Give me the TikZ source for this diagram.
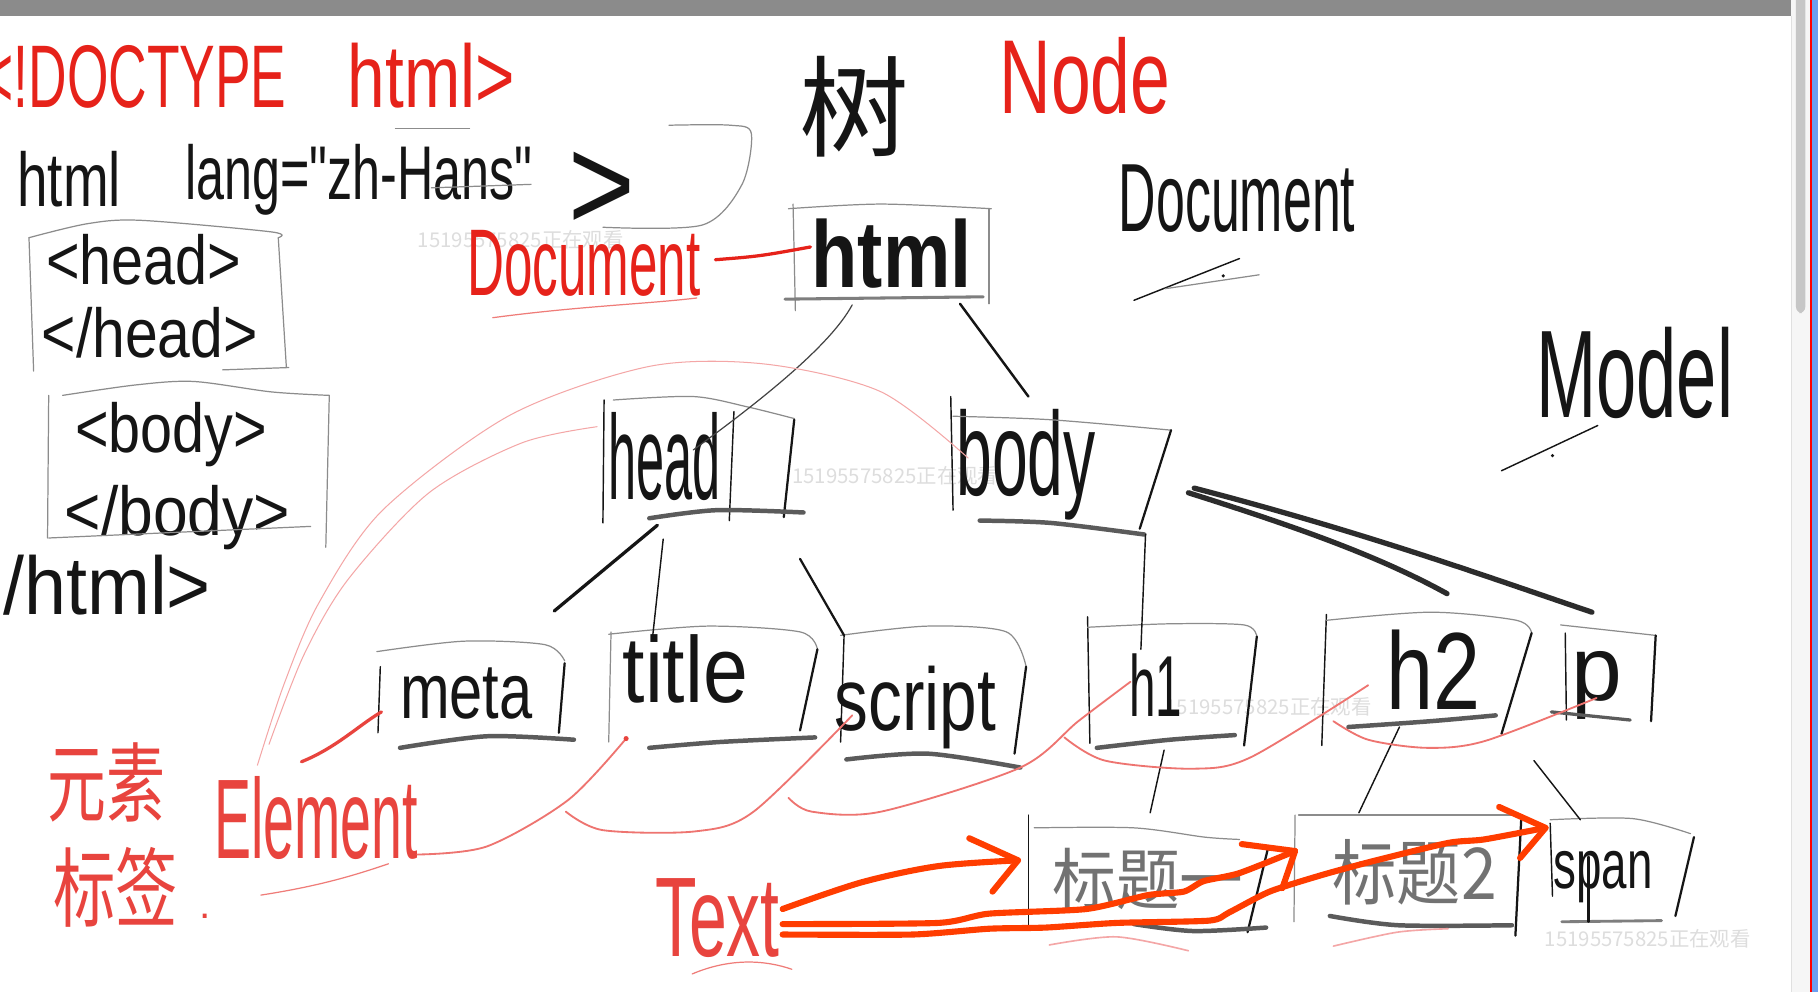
\documentclass[tikz,border=0pt]{standalone}
\usepackage{fontspec}
\usepackage{graphicx}
\setmainfont{Liberation Sans}
\newfontfamily\qfont{Liberation Sans}
\newfontfamily\cjk{Noto Sans CJK SC}
\definecolor{ink}{HTML}{151515}
\definecolor{pen}{HTML}{8C8C8C}
\definecolor{redpen}{HTML}{E6221A}
\definecolor{redsoft}{HTML}{E8443E}
\definecolor{pinkthin}{HTML}{F4A6A6}
\definecolor{pinkmid}{HTML}{EE7470}
\definecolor{orangepen}{HTML}{FF3D00}
\definecolor{wm}{HTML}{DDDDDD}
\definecolor{barGray}{HTML}{8B8B8B}
\definecolor{panel}{HTML}{F6F6F6}
\definecolor{thumb}{HTML}{C6C6C6}
\definecolor{blueedge}{HTML}{6C9FF0}
\newcommand\HW[3]{\scalebox{#1}[1]{\fontsize{#2pt}{#2pt}\selectfont #3}}
\tikzset{
  lbl/.style={inner sep=0pt, outer sep=0pt, anchor=base west, text=ink},
  wmark/.style={inner sep=0pt, anchor=west, text=wm, font=\cjk\fontsize{10pt}{10pt}\selectfont},
  graythin/.style={draw=pen, line width=0.6pt, line cap=round, line join=round},
  blkthin/.style={draw=ink, line width=0.7pt, line cap=round},
  blk/.style={draw=ink, line width=1.1pt, line cap=round},
  boxbottom/.style={draw=ink!70, line width=2.2pt, line cap=round},
  treeline/.style={draw=ink, line width=1.2pt, line cap=round},
  thickstroke/.style={draw=ink!90, line width=2.6pt, line cap=round},
  pinkline/.style={draw=pinkthin, line width=0.5pt, line cap=round},
  redcurve/.style={draw=pinkmid, line width=0.9pt, line cap=round},
  redthin/.style={draw=redsoft!70, line width=0.6pt, line cap=round},
  orangearrow/.style={draw=orangepen, line width=3pt, line cap=round, line join=round}
}
\begin{document}
\begin{tikzpicture}[x=0.02cm,y=-0.02cm]
\useasboundingbox (0,0) rectangle (1568,856);
\fill[white] (0,0) rectangle (1568,856);
% window chrome
\fill[barGray] (0,0) rectangle (1545,14);
\fill[panel] (1545,0) rectangle (1561,856);
\draw[draw=black!12, line width=0.4pt] (1545,14) -- (1545,856);
\fill[thumb, rounded corners=3pt] (1549,-6) rectangle (1557,270);
\fill[red] (1561,0) rectangle (1563,856);
\fill[blueedge] (1563,0) rectangle (1568,856);

% watermarks
\node[wmark] (wm1) at (360,207) {15195575825正在观看};
\node[wmark] (wm2) at (683,410) {15195575825正在观看};
\node[wmark] (wm3) at (1005,610) {15195575825正在观看};
\node[wmark] (wm4) at (1332,810) {15195575825正在观看};

% ---- source code on the left ----
\node[lbl, text=redpen] (doctype) at (-15,93) {\HW{0.6}{43.65}{<!DOCTYPE}};
\node[lbl, text=redpen] (doctypehtml) at (300,93) {\HW{0.76}{43.65}{html>}};
\node[lbl] (htmltag) at (15,178) {\HW{0.72}{37.4}{html}};
\node[lbl] (lang) at (160,172) {\HW{0.66}{37.4}{\qfont lang="zh-Hans"}};
\node[lbl] (gt) at (490,199) {\HW{0.85}{66}{>}};
\draw[graythin] (341,111) -- (405,111);
\draw[graythin] (372,162) -- (458,159);
\draw[graythin] plot[smooth] coordinates {(577,108) (630,108) (648,115) (640,159) (606,194) (520,196)};

\node[lbl] (headopen) at (40,245) {\HW{0.83}{34}{<head>}};
\node[lbl] (headclose) at (36,308) {\HW{0.85}{34}{</head>}};
\draw[graythin] (25,205) -- (29,320);
\draw[graythin] plot[smooth] coordinates {(25,205) (75,193) (121,190) (234,200) (240,205)};
\draw[graythin] (240,205) -- (247,317);
\draw[graythin] (192,319) -- (249,317);

\node[lbl] (bodyopen) at (65,390) {\HW{0.83}{34}{<body>}};
\node[lbl] (bodyclose) at (56,462) {\HW{0.9}{34}{</body>}};
\draw[graythin] (42,341) -- (41,464);
\draw[graythin] plot[smooth] coordinates {(54,341) (117,332) (167,329) (234,338) (284,341)};
\draw[graythin] (284,341) -- (281,472);
\draw[graythin] (42,464) -- (268,454);

\node[lbl] (htmlclose) at (-35,530) {\HW{0.92}{40.25}{</html>}};

% ---- headings ----
\node[lbl, anchor=center] (tree) at (737,92) {\cjk\fontsize{53.9pt}{53.9pt}\selectfont 树};
\node[lbl, text=redpen] (nodeword) at (862,98) {\HW{0.68}{51.6}{Node}};
\node[lbl] (docword) at (965,200) {\HW{0.535}{47.6}{Document}};
\draw[blkthin] (978,259) -- (1069,223);
\draw[graythin] (1005,249) -- (1086,237);
\fill[ink] (1055,238) circle (1.5);
\node[lbl] (modelword) at (1325,360) {\HW{0.58}{61.2}{Model}};
\draw[blkthin] (1295,406) -- (1378,367);
\fill[ink] (1339,393) circle (1.5);
\node[lbl, text=redpen] (docred) at (403,255) {\HW{0.54}{46.5}{Document}};
\draw[redthin] (425,274) .. controls (500,264) and (560,262) .. (601,257);

% ---- tree nodes ----
\node[lbl] (html) at (700,248) {\HW{0.8}{46.5}{\bfseries html}};
\draw[graythin] plot[smooth] coordinates {(680,180) (760,176) (855,180)};
\draw[graythin] (684,176) -- (686,268);
\draw[graythin] (853,180) -- (853,262);
\draw[boxbottom, draw=ink!55, line width=1.5pt] (677,258) -- (848,256);

\node[lbl] (head) at (525,431) {\HW{0.42}{59}{head}};
\draw[blkthin] (521,345) -- (520,451);
\draw[graythin] plot[smooth] coordinates {(529,345) (598,342) (645,351) (685,361)};
\draw[blk] (685,362) -- (676,446);
\draw[blkthin] (633,355) -- (629,449);
\draw[boxbottom] plot[smooth] coordinates {(560,447) (618,440) (693,442)};

\node[lbl] (body) at (825,427) {\HW{0.54}{58.4}{body}};
\draw[blkthin] (820,342) -- (822,440);
\draw[graythin] plot[smooth] coordinates {(822,359) (906,362) (1010,371)};
\draw[blk] (1010,371) -- (983,456);
\draw[boxbottom] plot[smooth] coordinates {(845,449) (906,451) (987,461)};

\node[lbl] (meta) at (345,620) {\HW{0.76}{38.5}{meta}};
\draw[graythin] plot[smooth] coordinates {(325,562) (400,553) (470,556) (487,570)};
\draw[blkthin] (328,575) -- (326,632);
\draw[blk] (487,572) -- (482,632);
\draw[boxbottom] plot[smooth] coordinates {(345,645) (420,635) (495,638)};

\node[lbl] (title) at (537,606) {\HW{0.86}{46}{title}};
\draw[graythin] plot[smooth] coordinates {(525,547) (610,540) (690,545) (705,560)};
\draw[graythin] (527,545) -- (525,640);
\draw[blk] (705,560) -- (690,630);
\draw[boxbottom] plot[smooth] coordinates {(560,645) (620,640) (703,636)};

\node[lbl] (script) at (720,630) {\HW{0.76}{43.65}{script}};
\draw[graythin] plot[smooth] coordinates {(725,548) (800,540) (868,545) (885,575)};
\draw[blkthin] (728,548) -- (725,640);
\draw[blk] (885,575) -- (875,650);
\draw[boxbottom] plot[smooth] coordinates {(730,655) (800,650) (880,662)};

\node[lbl] (h1) at (974,618) {\HW{0.55}{42.5}{h1}};
\draw[blkthin] (938,532) -- (940,641);
\draw[graythin] plot[smooth] coordinates {(938,541) (1009,538) (1073,539) (1084,549)};
\draw[blk] (1084,549) -- (1073,643);
\draw[boxbottom] plot[smooth] coordinates {(946,645) (1009,638) (1065,634)};

\node[lbl] (h2) at (1196,612) {\HW{0.77}{53.9}{h2}};
\draw[blkthin] (1144,530) -- (1140,643);
\draw[graythin] plot[smooth] coordinates {(1144,535) (1234,528) (1308,535) (1321,546)};
\draw[blk] (1321,546) -- (1295,633);
\draw[boxbottom] plot[smooth] coordinates {(1163,627) (1234,622) (1290,617)};

\node[lbl] (p) at (1355,604) {\HW{1.0}{44.8}{p}};
\draw[blkthin] (1350,546) -- (1351,621);
\draw[graythin] (1346,539) -- (1428,548);
\draw[blk] (1428,548) -- (1424,622);
\draw[boxbottom, line width=1.6pt] (1338,614) -- (1406,621);

\node[lbl, anchor=center, text=ink!60] (t1) at (990,758) {\cjk\HW{0.95}{32.9}{标题一}};
\draw[blkthin] (887,703) -- (887,800);
\draw[graythin] plot[smooth] coordinates {(892,714) (978,714) (1039,722) (1069,724)};
\draw[blk] (1094,730) -- (1076,804);
\draw[boxbottom] plot[smooth] coordinates {(978,797) (1029,803) (1092,800)};

\node[lbl, anchor=center, text=ink!60] (t2) at (1220,752) {\cjk\HW{0.9}{35.1}{标题2}};
\draw[graythin] (1117,703) -- (1116,795);
\draw[graythin] (1120,703) -- (1306,703);
\draw[blk] (1312,707) -- (1307,807);
\draw[boxbottom] plot[smooth] coordinates {(1147,790) (1206,798) (1304,798)};

\node[lbl] (span) at (1340,766) {\HW{0.66}{34}{span}};
\draw[blkthin] (1337,710) -- (1339,773);
\draw[graythin] plot[smooth] coordinates {(1337,707) (1408,706) (1458,719)};
\draw[blk] (1461,722) -- (1445,790);
\draw[boxbottom, draw=ink!55, line width=1.4pt] (1347,795) -- (1433,794);
\draw[blk] (1370,739) -- (1370,795);

% ---- tree connectors ----
\coordinate (htmlL) at (735,263);
\coordinate (headIn) at (598,388);
\coordinate (htmlR) at (828,262);
\coordinate (bodyTop) at (887,342);
\coordinate (headB1) at (567,453);
\coordinate (metaTop) at (478,527);
\coordinate (headB2) at (572,465);
\coordinate (titleTop) at (563,548);
\coordinate (headB3) at (690,482);
\coordinate (scriptTop) at (728,548);
\coordinate (bodyB1) at (988,461);
\coordinate (hOneTop) at (984,560);
\coordinate (bodyR1) at (1025,425);
\coordinate (hTwoTop) at (1248,512);
\coordinate (bodyR2) at (1030,421);
\coordinate (pTop) at (1373,528);
\coordinate (hOneB) at (1004,647);
\coordinate (tOneTop) at (992,701);
\coordinate (hTwoB) at (1207,627);
\coordinate (tTwoTop) at (1172,701);
\coordinate (pB) at (1323,656);
\coordinate (spanTop) at (1363,707);

\draw[graythin, draw=ink!80] (htmlL) .. controls (715,300) and (650,350) .. (headIn);
\draw[treeline] (htmlR) -- (bodyTop);
\draw[treeline, line width=1.6pt] (headB1) -- (metaTop);
\draw[blkthin] (headB2) -- (titleTop);
\draw[blk] (headB3) -- (scriptTop);
\draw[blkthin] (bodyB1) -- (hOneTop);
\draw[thickstroke] (bodyR1) .. controls (1120,455) and (1190,480) .. (hTwoTop);
\draw[thickstroke] (bodyR2) .. controls (1180,460) and (1290,500) .. (pTop);
\draw[blkthin] (hOneB) -- (tOneTop);
\draw[blkthin] (hTwoB) -- (tTwoTop);
\draw[blkthin] (pB) -- (spanTop);

% ---- red annotations ----
\coordinate (docEnd) at (617,224);
\coordinate (htmlLeft) at (699,213);
\draw[draw=redpen, line width=1.6pt, line cap=round] (docEnd) .. controls (655,221) .. (htmlLeft);

\node[lbl, anchor=center, text=redsoft] (yuansu) at (92,675) {\cjk\scalebox{0.85}[1.25]{\fontsize{34pt}{34pt}\selectfont 元素}};
\node[lbl, anchor=center, text=redsoft] (biaoqian) at (100,765) {\cjk\scalebox{0.9}[1.25]{\fontsize{34pt}{34pt}\selectfont 标签}};
\node[lbl, text=redsoft] (dot) at (172,792) {\fontsize{20pt}{20pt}\selectfont .};
\node[lbl, text=redsoft] (element) at (185,740) {\HW{0.49}{55.6}{Element}};
\draw[redthin] (225,772) .. controls (270,765) and (300,757) .. (335,745);
\node[lbl, text=redsoft] (textword) at (565,825) {\HW{0.6}{55.6}{Text}};
\draw[redthin] (597,840) .. controls (630,826) and (660,828) .. (683,836);

% thin pink arcs
\draw[pinkline] plot[smooth] coordinates {(222,660) (245,590) (275,520) (330,440) (440,358) (560,316) (660,314) (760,338) (835,395)};
\draw[pinkline] plot[smooth] coordinates {(232,642) (262,565) (300,500) (370,425) (450,382) (515,368)};
% element links
\coordinate (elemTick) at (260,657);
\coordinate (metaLeft) at (329,614);
\draw[draw=redsoft, line width=1.6pt, line cap=round] (elemTick) .. controls (290,645) and (310,625) .. (metaLeft);
\draw[redcurve] plot[smooth] coordinates {(360,737) (420,730) (490,690) (540,637)};
\fill[redsoft] (540,637) circle (2.2);
\draw[redcurve] plot[smooth] coordinates {(488,700) (520,716) (600,717) (650,700) (735,617)};
\draw[redcurve] plot[smooth] coordinates {(680,688) (700,700) (760,700) (880,662) (930,622) (975,588)};
\draw[redcurve] plot[smooth] coordinates {(918,636) (953,656) (1029,663) (1079,653) (1180,591)};
\draw[redcurve] plot[smooth] coordinates {(1150,622) (1180,638) (1231,645) (1281,639) (1377,602)};
\draw[pinkline, line width=0.8pt] plot[smooth] coordinates {(905,815) (963,808) (1025,820)};
\draw[pinkline, line width=0.8pt] plot[smooth] coordinates {(1150,816) (1205,804) (1249,801)};

% ---- orange arrows from Text ----
\coordinate (textA) at (675,784);
\coordinate (textB) at (675,797);
\coordinate (textC) at (675,806);
\coordinate (tipOne) at (878,742);
\coordinate (tipTwo) at (1117,734);
\coordinate (tipThree) at (1333,714);
\draw[orangearrow] plot[smooth] coordinates {(textA) (743,761) (809,747) (tipOne)};
\draw[orangearrow] (836,723) -- (tipOne) -- (856,769);
\draw[orangearrow] plot[smooth, tension=0.4] coordinates {(textB) (809,796) (853,788) (937,784) (990,772) (1021,769) (1038,760) (1069,753) (tipTwo)};
\draw[orangearrow] (1071,728) -- (tipTwo) -- (1106,766);
\draw[orangearrow] plot[smooth, tension=0.4] coordinates {(textC) (787,806) (853,801) (902,800) (963,796) (1043,794) (1060,787) (1095,769) (1139,755) (1183,743) (1249,727) (1280,724) (tipThree)};
\draw[orangearrow] (1293,696) -- (tipThree) -- (1311,740);
\end{tikzpicture}
\end{document}
